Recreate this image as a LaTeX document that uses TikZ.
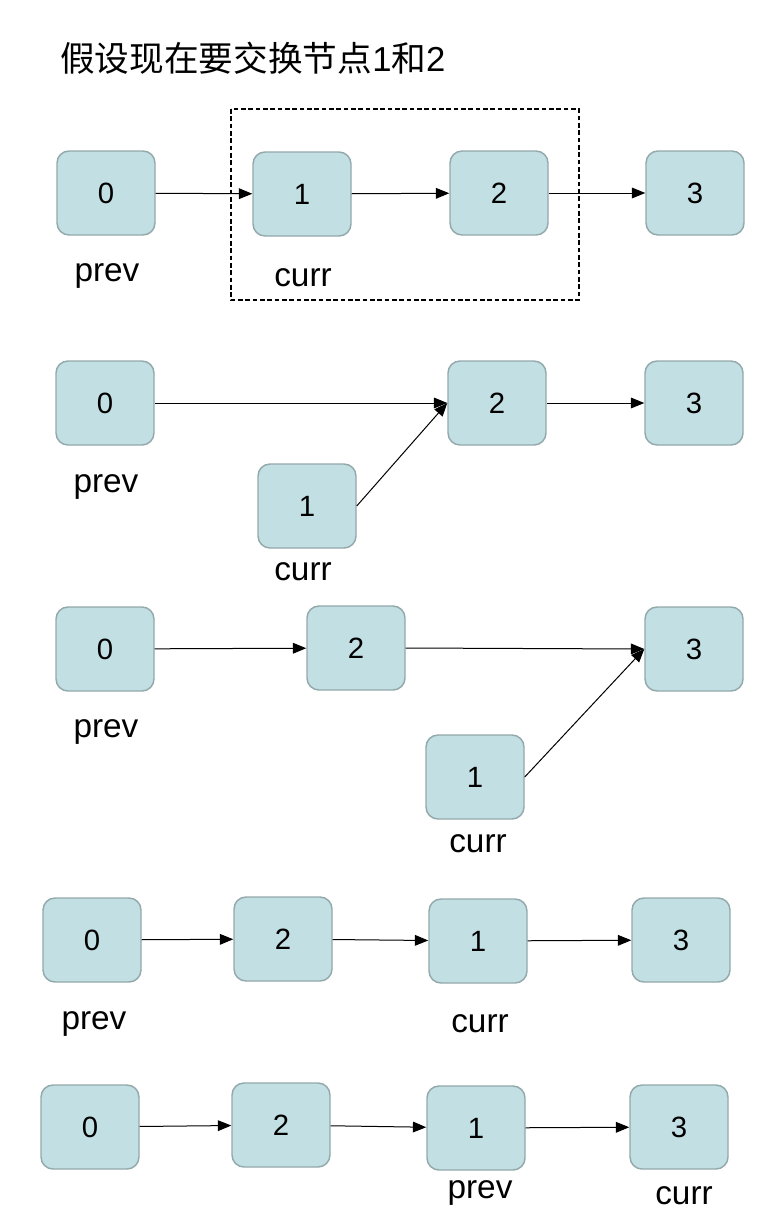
\documentclass[tikz,border=0pt]{standalone}
\usepackage{fontspec}
\setmainfont{Liberation Sans}
\newfontfamily\cjk{Noto Sans CJK SC}
\usepackage{tikz}
\usetikzlibrary{arrows.meta}
\definecolor{nodefill}{HTML}{C2DFE3}
\definecolor{nodeline}{HTML}{93A9AC}
\tikzset{
  listnode/.style={rectangle, rounded corners=9pt, draw=nodeline, line width=1.1pt, fill=nodefill, minimum width=73.5pt, minimum height=63pt, inner sep=0pt, font=\fontsize{22}{26}\selectfont},
  ptrlabel/.style={inner sep=0pt, font=\fontsize{25}{30}\selectfont},
  link/.style={-{Triangle[length=10pt, width=8pt]}, line width=0.75pt},
}

\begin{document}
\begin{tikzpicture}[x=0.75pt, y=-0.75pt]
  \useasboundingbox (0,0) rectangle (784,1228);

  % Title
  \node[anchor=west, inner sep=0pt, font=\fontsize{26}{30}\selectfont] (title) at (60,58) {{\cjk 假设现在要交换节点}1{\cjk 和}2};

  % Step 1: initial list
  \node[listnode] (a0) at (106,193) {0};
  \node[listnode] (a1) at (302,194) {1};
  \node[listnode] (a2) at (499,193) {2};
  \node[listnode] (a3) at (695,193) {3};
  \node[ptrlabel] (aprev) at (107,276) {prev};
  \node[ptrlabel] (acurr) at (303,278) {curr};
  \draw[link] (a0) -- (a1);
  \draw[link] (a1) -- (a2);
  \draw[link] (a2) -- (a3);
  \draw[dashed, dash pattern=on 3.5pt off 2pt, line width=0.9pt] (231,109) rectangle (579,300);

  % Step 2: prev.next = 2
  \node[listnode] (b0) at (105,403) {0};
  \node[listnode] (b2) at (497,403) {2};
  \node[listnode] (b3) at (694,403) {3};
  \node[listnode] (b1) at (307,506) {1};
  \node[ptrlabel] (bprev) at (106,487) {prev};
  \node[ptrlabel] (bcurr) at (303,572) {curr};
  \draw[link] (b0) -- (b2);
  \draw[link] (b1.east) -- (b2.west);
  \draw[link] (b2) -- (b3);

  % Step 3: curr.next = 3
  \node[listnode] (c0) at (105,649) {0};
  \node[listnode] (c2) at (356,648) {2};
  \node[listnode] (c3) at (694,649) {3};
  \node[listnode] (c1) at (475,777) {1};
  \node[ptrlabel] (cprev) at (106,732) {prev};
  \node[ptrlabel] (ccurr) at (478,844) {curr};
  \draw[link] (c0) -- (c2);
  \draw[link] (c2.east) -- (c3.west);
  \draw[link] (c1.east) -- (c3.west);

  % Step 4: 2.next = 1
  \node[listnode] (d0) at (92,940) {0};
  \node[listnode] (d2) at (283,939) {2};
  \node[listnode] (d1) at (478,941) {1};
  \node[listnode] (d3) at (681,940) {3};
  \node[ptrlabel] (dprev) at (94,1024) {prev};
  \node[ptrlabel] (dcurr) at (480,1024) {curr};
  \draw[link] (d0) -- (d2);
  \draw[link] (d2) -- (d1);
  \draw[link] (d1) -- (d3);

  % Step 5: move pointers
  \node[listnode] (e0) at (90,1127) {0};
  \node[listnode] (e2) at (281,1125) {2};
  \node[listnode] (e1) at (476,1128) {1};
  \node[listnode] (e3) at (679,1127) {3};
  \node[ptrlabel] (eprev) at (480,1193) {prev};
  \node[ptrlabel] (ecurr) at (684,1196) {curr};
  \draw[link] (e0) -- (e2);
  \draw[link] (e2) -- (e1);
  \draw[link] (e1) -- (e3);

\end{tikzpicture}
\end{document}
